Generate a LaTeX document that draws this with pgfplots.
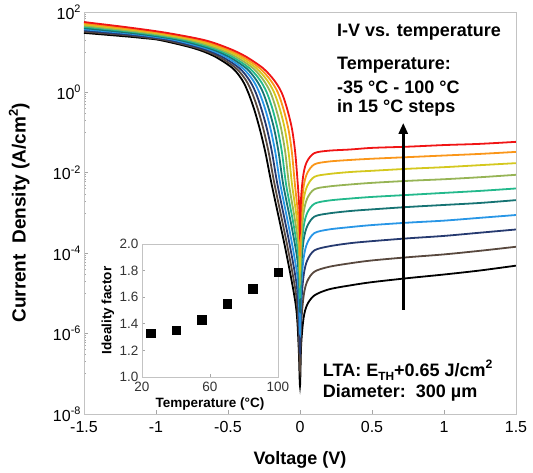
\documentclass[border=0pt]{standalone}
\usepackage{fontspec}
\setmainfont{Liberation Sans}
\usepackage{graphicx}
\usepackage{pgfplots}
\pgfplotsset{compat=1.18}
\usetikzlibrary{arrows.meta}

\newcommand{\supr}[1]{\raisebox{0.42em}{\scalebox{0.68}{#1}}}
\newcommand{\subr}[1]{\raisebox{-0.22em}{\scalebox{0.66}{#1}}}

\definecolor{cK}{RGB}{0,0,0}
\definecolor{cBr}{RGB}{88,72,62}
\definecolor{cNv}{RGB}{38,58,112}
\definecolor{cBl}{RGB}{40,150,230}
\definecolor{cTl}{RGB}{22,115,115}
\definecolor{cGr}{RGB}{35,185,140}
\definecolor{cOl}{RGB}{150,180,85}
\definecolor{cYe}{RGB}{212,200,30}
\definecolor{cOr}{RGB}{250,150,25}
\definecolor{cRd}{RGB}{240,20,20}
\definecolor{frame}{RGB}{195,195,195}

\begin{document}
\begin{tikzpicture}
\useasboundingbox (-84pt,-59pt) rectangle (449pt,414pt);
% y values: log10 of current density in A/cm^2
\begin{axis}[
  at={(0pt,0pt)}, anchor=south west,
  width=432pt, height=402pt, scale only axis,
  xmin=-1.5, xmax=1.5, ymin=-8, ymax=2,
  xtick={-1.5,-1,-0.5,0,0.5,1,1.5},
  xticklabels={-1.5,-1,-0.5,0,0.5,1,1.5},
  ytick={-8,-6,-4,-2,0,2},
  yticklabels={10\supr{-8},10\supr{-6},10\supr{-4},10\supr{-2},10\supr{0},10\supr{2}},
  minor ytick={1,1.301,1.477,1.602,1.699,1.778,1.845,1.903,1.954,
    -1,-0.699,-0.523,-0.398,-0.301,-0.222,-0.155,-0.097,-0.046,
    -3,-2.699,-2.523,-2.398,-2.301,-2.222,-2.155,-2.097,-2.046,
    -5,-4.699,-4.523,-4.398,-4.301,-4.222,-4.155,-4.097,-4.046,
    -7,-6.699,-6.523,-6.398,-6.301,-6.222,-6.155,-6.097,-6.046},
  tick align=inside, tick pos=left,
  major tick length=4pt, minor tick length=2.5pt,
  tick style={color=frame!85!black, line width=0.6pt},
  axis line style={frame, line width=0.8pt},
  tick label style={font=\fontsize{16}{19}\selectfont},
  xticklabel style={yshift=-4pt},
  xlabel={Voltage (V)},
  ylabel={Current\ \ Density (A/cm\supr{2})},
  label style={font=\bfseries\fontsize{18}{21}\selectfont},
  xlabel style={at={(axis description cs:0.5,-0.114)}, anchor=center},
  ylabel style={at={(axis description cs:-0.15,0.5)}, anchor=center, font=\bfseries\fontsize{19}{22}\selectfont},
  every axis plot/.append style={line width=1.8pt, smooth},
]
% -35 C
\addplot[cK] coordinates {(-1.5,1.48) (-1.2,1.39) (-1.085,1.35) (-0.970,1.3) (-0.738,1.1) (-0.595,0.9) (-0.467,0.6) (-0.400,0.3) (-0.360,0) (-0.320,-0.4) (-0.280,-0.9) (-0.240,-1.5) (-0.196,-2.3) (-0.098,-3.95) (-0.029,-5.30) (-0.0098,-6.30) (0,-7.3) (0.008,-6.29) (0.025,-5.61) (0.05,-5.28) (0.1,-5.05) (0.2,-4.90) (0.35,-4.80) (0.5,-4.72) (0.75,-4.62) (1.0,-4.53) (1.25,-4.43) (1.5,-4.31)};
% -20 C
\addplot[cBr] coordinates {(-1.5,1.51) (-1.2,1.42) (-1.068,1.365) (-0.936,1.3) (-0.711,1.1) (-0.571,0.9) (-0.444,0.6) (-0.375,0.3) (-0.334,0) (-0.294,-0.4) (-0.255,-0.9) (-0.217,-1.5) (-0.176,-2.3) (-0.088,-3.82) (-0.026,-5.06) (-0.0088,-5.98) (0,-6.9) (0.008,-5.80) (0.025,-5.07) (0.05,-4.70) (0.1,-4.46) (0.2,-4.34) (0.35,-4.25) (0.5,-4.18) (0.75,-4.10) (1.0,-4.03) (1.25,-3.94) (1.5,-3.84)};
% -5 C
\addplot[cNv] coordinates {(-1.5,1.54) (-1.2,1.44) (-1.051,1.38) (-0.902,1.3) (-0.685,1.1) (-0.547,0.9) (-0.420,0.6) (-0.351,0.3) (-0.308,0) (-0.269,-0.4) (-0.230,-0.9) (-0.194,-1.5) (-0.156,-2.3) (-0.078,-3.67) (-0.023,-4.79) (-0.0078,-5.62) (0,-6.45) (0.008,-5.32) (0.025,-4.56) (0.05,-4.18) (0.1,-3.93) (0.2,-3.83) (0.35,-3.75) (0.5,-3.70) (0.75,-3.63) (1.0,-3.57) (1.25,-3.49) (1.5,-3.41)};
% 10 C
\addplot[cBl] coordinates {(-1.5,1.57) (-1.2,1.47) (-1.034,1.395) (-0.867,1.3) (-0.658,1.1) (-0.523,0.9) (-0.397,0.6) (-0.326,0.3) (-0.283,0) (-0.243,-0.4) (-0.205,-0.9) (-0.171,-1.5) (-0.136,-2.3) (-0.068,-3.52) (-0.020,-4.52) (-0.0068,-5.26) (0,-6.0) (0.008,-4.88) (0.025,-4.13) (0.05,-3.75) (0.1,-3.50) (0.2,-3.41) (0.35,-3.35) (0.5,-3.30) (0.75,-3.24) (1.0,-3.19) (1.25,-3.12) (1.5,-3.05)};
% 25 C
\addplot[cTl] coordinates {(-1.5,1.60) (-1.2,1.49) (-1.017,1.41) (-0.833,1.3) (-0.631,1.1) (-0.499,0.9) (-0.373,0.6) (-0.302,0.3) (-0.257,0) (-0.218,-0.4) (-0.180,-0.9) (-0.148,-1.5) (-0.116,-2.3) (-0.058,-3.34) (-0.017,-4.19) (-0.0058,-4.82) (0,-5.45) (0.008,-4.39) (0.025,-3.68) (0.05,-3.33) (0.1,-3.09) (0.2,-3.01) (0.35,-2.95) (0.5,-2.91) (0.75,-2.85) (1.0,-2.80) (1.25,-2.75) (1.5,-2.68)};
% 40 C
\addplot[cGr] coordinates {(-1.5,1.63) (-1.2,1.52) (-1.000,1.425) (-0.799,1.3) (-0.605,1.1) (-0.476,0.9) (-0.350,0.6) (-0.277,0.3) (-0.231,0) (-0.192,-0.4) (-0.156,-0.9) (-0.125,-1.5) (-0.096,-2.3) (-0.048,-3.22) (-0.014,-3.98) (-0.0048,-4.54) (0,-5.1) (0.008,-4.05) (0.025,-3.35) (0.05,-3.00) (0.1,-2.77) (0.2,-2.69) (0.35,-2.64) (0.5,-2.60) (0.75,-2.55) (1.0,-2.50) (1.25,-2.45) (1.5,-2.39)};
% 55 C
\addplot[cOl] coordinates {(-1.5,1.66) (-1.2,1.54) (-0.983,1.44) (-0.765,1.3) (-0.578,1.1) (-0.452,0.9) (-0.326,0.6) (-0.253,0.3) (-0.205,0) (-0.167,-0.4) (-0.131,-0.9) (-0.102,-1.5) (-0.076,-2.3) (-0.038,-3.11) (-0.011,-3.77) (-0.0038,-4.26) (0,-4.75) (0.008,-3.70) (0.025,-3.00) (0.05,-2.64) (0.1,-2.41) (0.2,-2.34) (0.35,-2.29) (0.5,-2.25) (0.75,-2.20) (1.0,-2.16) (1.25,-2.11) (1.5,-2.05)};
% 70 C
\addplot[cYe] coordinates {(-1.5,1.69) (-1.2,1.57) (-0.966,1.455) (-0.731,1.3) (-0.551,1.1) (-0.428,0.9) (-0.303,0.6) (-0.228,0.3) (-0.180,0) (-0.141,-0.4) (-0.106,-0.9) (-0.079,-1.5) (-0.055,-2.3) (-0.0275,-2.99) (-0.0083,-3.56) (-0.0028,-3.98) (0,-4.4) (0.008,-3.37) (0.025,-2.68) (0.05,-2.33) (0.1,-2.10) (0.2,-2.03) (0.35,-1.98) (0.5,-1.95) (0.75,-1.90) (1.0,-1.86) (1.25,-1.81) (1.5,-1.76)};
% 85 C
\addplot[cOr] coordinates {(-1.5,1.72) (-1.2,1.59) (-0.949,1.47) (-0.697,1.3) (-0.525,1.1) (-0.404,0.9) (-0.279,0.6) (-0.204,0.3) (-0.154,0) (-0.116,-0.4) (-0.081,-0.9) (-0.056,-1.5) (-0.035,-2.3) (-0.0175,-2.88) (-0.0053,-3.35) (-0.0018,-3.70) (0,-4.05) (0.008,-3.03) (0.025,-2.35) (0.05,-2.01) (0.1,-1.79) (0.2,-1.72) (0.35,-1.68) (0.5,-1.65) (0.75,-1.61) (1.0,-1.57) (1.25,-1.53) (1.5,-1.48)};
% 100 C
\addplot[cRd] coordinates {(-1.5,1.75) (-1.2,1.62) (-0.932,1.485) (-0.663,1.3) (-0.498,1.1) (-0.380,0.9) (-0.256,0.6) (-0.179,0.3) (-0.128,0) (-0.090,-0.4) (-0.056,-0.9) (-0.033,-1.5) (-0.015,-2.3) (-0.0075,-2.70) (-0.0023,-3.02) (-0.0008,-3.26) (0,-3.5) (0.008,-2.60) (0.025,-2.01) (0.05,-1.71) (0.1,-1.51) (0.2,-1.45) (0.35,-1.42) (0.5,-1.38) (0.75,-1.35) (1.0,-1.31) (1.25,-1.28) (1.5,-1.23)};

\draw[-{Triangle[length=11pt,width=9pt]}, line width=2.6pt] (axis cs:0.717,-5.41) -- (axis cs:0.717,-0.76);

\begin{scope}[every node/.style={anchor=west, inner sep=0pt, font=\bfseries\fontsize{18}{21}\selectfont}]
\node at (axis cs:0.257,1.50) {I-V vs. temperature};
\node at (axis cs:0.257,0.68) {Temperature:};
\node at (axis cs:0.257,0.134) {-35 °C - 100 °C};
\node at (axis cs:0.257,-0.39) {in 15 °C steps};
\node at (axis cs:0.158,-6.905) {LTA: E\subr{TH}+0.65 J/cm\supr{2}};
\node at (axis cs:0.158,-7.48) {Diameter:\ \ 300 µm};
\end{scope}
\end{axis}

\begin{axis}[
  at={(58pt,37pt)}, anchor=south west,
  width=136pt, height=133pt, scale only axis,
  xmin=20, xmax=100, ymin=1, ymax=2,
  xtick={20,60,100}, xticklabels={20,60,100},
  ytick={1,1.2,1.4,1.6,1.8,2},
  yticklabels={1.0,1.2,1.4,1.6,1.8,2.0},
  tick align=inside, tick pos=left,
  major tick length=3pt,
  tick style={color=frame!85!black, line width=0.6pt},
  axis line style={frame, line width=0.8pt},
  axis background/.style={fill=white},
  tick label style={font=\fontsize{13.5}{16}\selectfont, color=black!80},
  xticklabel style={yshift=-2pt},
  xlabel={Temperature (°C)},
  ylabel={Ideality factor},
  label style={font=\bfseries\fontsize{13.5}{16}\selectfont},
  xlabel style={at={(axis description cs:0.5,-0.2)}, anchor=center},
  ylabel style={at={(axis description cs:-0.25,0.5)}, anchor=center},
  clip=false,
]
\addplot[only marks, mark=square*, mark size=4.2pt, black] coordinates {
(25,1.33) (40,1.35) (55,1.43) (70,1.55) (85,1.665) (100,1.79)
};
\end{axis}
\end{tikzpicture}
\end{document}
